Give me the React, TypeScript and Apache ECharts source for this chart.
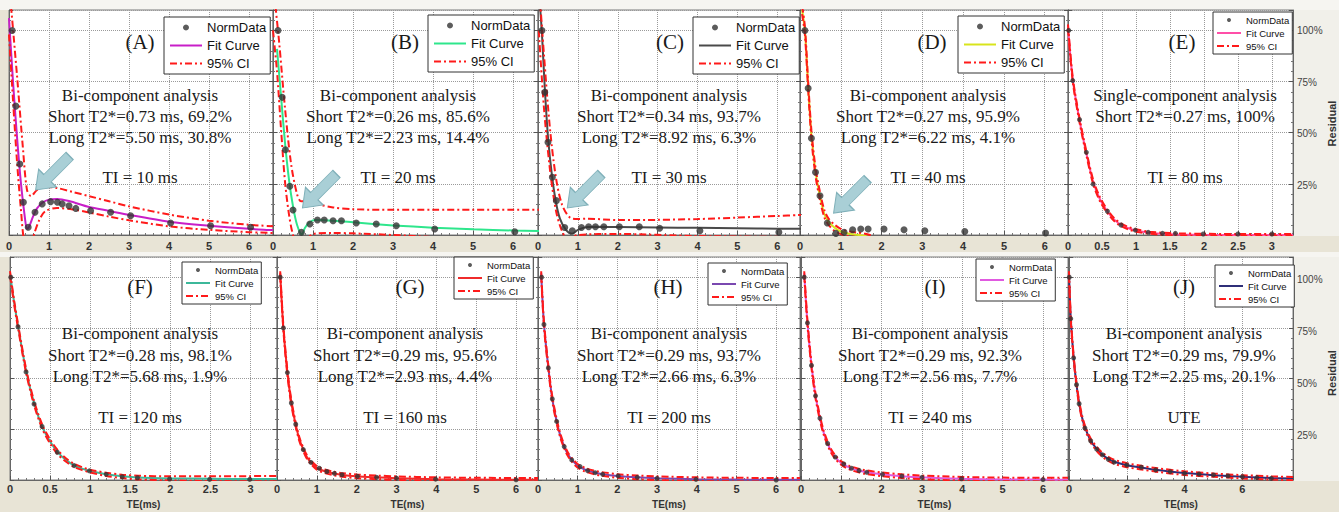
import React, { useEffect, useRef } from "react";
import * as echarts from "echarts";

// ---------------- data (TE in ms, signal in % of first echo) ----------------
// Panel A, TI = 10 ms
const teA = [0.08, 0.17, 0.27, 0.36, 0.48, 0.65, 0.83, 1.04, 1.21, 1.33, 1.5, 1.67, 2.04, 2.54, 3.04, 4.04, 5.04, 6.04];
const sigA = [100, 63, 34.7, 16, 3.8, 11.1, 15.2, 16.3, 16, 15.2, 14.3, 13, 11.9, 11.1, 9.4, 5.9, 4.5, 3.8];
const fitXA = [0, 0.1, 0.2, 0.3, 0.4, 0.45, 0.5, 0.6, 0.7, 0.85, 1.0, 1.2, 1.5, 2, 2.5, 3, 4, 5, 6, 6.6];
const fitA = [106, 75, 48, 25, 8, 3, 4, 9, 13, 16, 17.3, 17.6, 16.6, 13.7, 11.8, 9.8, 6.5, 4.5, 3, 2.4];
const ciHiXA = [0.05, 0.2, 0.35, 0.45, 0.55, 0.7, 0.9, 1.2, 1.6, 2, 2.5, 3, 4, 5, 6, 6.6];
const ciHiA = [112, 78, 42, 22, 19, 22, 23.5, 23, 21, 19, 16.5, 14, 10, 7, 5, 4.3];
const ciLoXA = [0, 0.1, 0.2, 0.3, 0.38, 0.5, 0.62, 0.75, 0.9, 1.2, 1.6, 2, 2.5, 3, 4, 5, 6, 6.6];
const ciLoA = [98, 66, 36, 12, -3, -8, 0, 7, 11.5, 13.2, 12.5, 11, 9, 7.2, 4.2, 2.5, 1.4, 1];

// Panel B, TI = 20 ms
const teB = [0.125, 0.23, 0.31, 0.42, 0.5, 0.71, 0.92, 1.11, 1.28, 1.5, 1.71, 2.08, 2.58, 3.08, 4.04, 6.04];
const sigB = [100, 67.3, 41.7, 23.8, 12.2, 1.3, 5.4, 7.3, 7.3, 7, 7, 5.9, 5.4, 4.5, 2.9, 1.6];
const fitXB = [0.1, 0.2, 0.3, 0.4, 0.5, 0.6, 0.72, 0.8, 0.9, 1.05, 1.3, 1.7, 2, 3, 4, 5, 6, 6.65];
const fitB = [91, 68, 45, 27, 14, 5, 0.3, 3.5, 6, 7.3, 7.2, 6.7, 6.2, 4.7, 3.6, 2.8, 2.2, 2];
const ciHiXB = [0.06, 0.15, 0.3, 0.45, 0.6, 0.7, 0.8, 1.0, 1.5, 2, 3, 4, 5, 6, 6.65];
const ciHiB = [112, 95, 62, 35, 20, 16.5, 16.5, 15.5, 13.5, 12.6, 12.3, 12.3, 12.3, 12.4, 12.4];
const ciLoXB = [0, 0.1, 0.2, 0.3, 0.4, 0.5, 0.6, 0.8, 1.0, 1.5, 2, 3, 4, 5, 6.65];
const ciLoB = [100, 80, 52, 26, 10, 0, -4, -3, 0.5, 1, 0.8, 0, -1, -2, -3];

// Panel C, TI = 30 ms
const teC = [0.1, 0.17, 0.25, 0.36, 0.46, 0.67, 0.86, 1.09, 1.27, 1.44, 1.65, 2.04, 2.54, 3.05, 4.06, 6.04];
const sigC = [100, 69.8, 45.3, 28.2, 16.8, 3.7, 2.1, 3.7, 4, 4, 4, 4, 4, 3.3, 2.1, 1.3];
const fitXC = [0.05, 0.1, 0.17, 0.25, 0.35, 0.45, 0.55, 0.7, 0.85, 1.0, 1.2, 1.5, 2, 3, 4, 5, 6, 6.6];
const fitC = [112, 98, 72, 48, 29, 16, 8, 2.5, 0.6, 2.5, 3.8, 4, 3.9, 3.7, 3.5, 3.3, 3.1, 3];
const ciHiXC = [0.05, 0.15, 0.3, 0.45, 0.6, 0.8, 1.0, 1.2, 2, 3, 4, 5, 6, 6.6];
const ciHiC = [115, 88, 52, 28, 15, 8.5, 7.8, 8, 7.3, 7.4, 7.8, 8.5, 9.3, 9.8];
const ciLoXC = [0.02, 0.15, 0.3, 0.45, 0.6, 0.75, 1.0, 2, 4, 6.6];
const ciLoC = [100, 62, 32, 12, 2, -2, 0, 0.5, -0.5, -1];

// Panel D, TI = 40 ms
const teD = [0.12, 0.2, 0.28, 0.38, 0.49, 0.67, 0.88, 1.08, 1.29, 1.49, 1.67, 2.06, 2.55, 3.06, 4.04, 6.02];
const sigD = [100, 71.7, 47.3, 30.7, 19.2, 5.9, 0.8, 1.3, 2.6, 2.9, 2.9, 2.9, 2.6, 2.1, 1.7, 1];
const fitXD = [0.05, 0.12, 0.2, 0.28, 0.38, 0.49, 0.6, 0.7, 0.85, 1.0, 1.2, 1.4, 1.6, 1.8];
const fitD = [110, 100, 73, 49, 31, 19, 10, 6.5, 3.5, 1.7, 0.6, 0.1, -0.5, -1.5];
const ciHiD = [112, 102, 75, 51, 33, 21, 12, 8, 5, 3, 1.8, 1.2, 0.6, -0.5];
const ciLoD = [108, 98, 71, 47, 29, 17, 8.5, 5, 2, 0.4, -0.6, -1, -1.6, -2.5];

// Panel E, TI = 80 ms
const teE = [0.01, 0.07, 0.17, 0.27, 0.37, 0.58, 0.78, 0.99, 1.18, 1.39, 1.58, 1.99, 2.5, 3.0];
const sigE = [100, 75.5, 56.4, 40.4, 24.9, 11.6, 4.9, 2.4, 1.3, 0.8, 0.8, 0.5, 0.5, 0.5];
const fitXE = [0, 0.07, 0.17, 0.27, 0.37, 0.47, 0.58, 0.68, 0.78, 0.9, 1.0, 1.2, 1.4, 1.6, 2, 2.5, 3, 3.31];
const fitE = [102, 76, 56, 40, 26, 17.5, 11.5, 7.5, 5, 3.2, 2.2, 1.1, 0.6, 0.3, 0.1, 0, 0, 0];
const ciHiE = [103, 77, 57, 41, 27, 18.5, 12.3, 8.2, 5.7, 3.8, 2.8, 1.6, 1.1, 0.8, 0.6, 0.5, 0.5, 0.5];
const ciLoE = [101, 75, 55, 39, 25, 16.5, 10.7, 6.8, 4.3, 2.6, 1.6, 0.6, 0.1, -0.2, -0.4, -0.5, -0.5, -0.5];

// Panel F, TI = 120 ms
const teF = [0.01, 0.1, 0.2, 0.3, 0.4, 0.59, 0.8, 0.99, 1.2, 1.4, 1.59, 1.99, 2.49, 2.99];
const sigF = [100, 75.6, 53.3, 37.5, 26.4, 13.7, 7.1, 4.5, 2.8, 1.6, 1.1, 0.5, 0.3, 0.3];
const fitXF = [0, 0.05, 0.1, 0.2, 0.3, 0.4, 0.5, 0.6, 0.7, 0.8, 0.9, 1.0, 1.2, 1.4, 1.6, 2, 2.5, 3, 3.33];
const fitF = [102, 88, 76, 54, 38, 26.5, 19, 13.5, 9.8, 7.2, 5.6, 4.4, 2.8, 1.8, 1.2, 0.8, 0.6, 0.5, 0.5];
const ciHiF = [103, 89, 77, 55, 39, 27.5, 20, 14.5, 10.6, 8, 6.3, 5.1, 3.6, 2.6, 2.1, 1.8, 1.8, 1.9, 2];
const ciLoF = [101, 87, 75, 53, 37, 25.5, 18, 12.5, 9, 6.4, 4.9, 3.7, 2, 1, 0.3, -0.2, -0.5, -0.6, -0.7];

// Panel G, TI = 160 ms
const teG = [0.08, 0.16, 0.26, 0.36, 0.47, 0.66, 0.85, 1.06, 1.25, 1.44, 1.63, 2.02, 2.5, 3.0, 3.98, 6.0];
const sigG = [100, 75, 53, 38, 27.5, 15, 8.7, 5.8, 4.2, 3.3, 2.6, 1.8, 1.3, 0.9, 0.4, 0.1];
const fitXG = [0.08, 0.16, 0.26, 0.36, 0.47, 0.56, 0.66, 0.75, 0.85, 1.0, 1.2, 1.4, 1.6, 2, 2.5, 3, 4, 5, 6, 6.55];
const fitG = [102, 75, 53.2, 38.2, 27.3, 20.2, 15, 11.4, 8.7, 6, 4.3, 3.3, 2.6, 1.8, 1.3, 0.9, 0.4, 0.2, 0.1, 0.1];
const ciHiG = [103, 76.2, 54.4, 39.4, 28.4, 21.2, 15.9, 12.3, 9.6, 6.9, 5.2, 4.2, 3.5, 2.7, 2.2, 1.8, 1.3, 1.1, 1, 1];
const ciLoG = [101, 73.8, 52, 37, 26.2, 19.2, 14.1, 10.5, 7.8, 5.1, 3.4, 2.4, 1.7, 0.9, 0.4, 0, -0.5, -0.7, -0.8, -0.8];

// Panel H, TI = 200 ms
const teH = [0.09, 0.15, 0.26, 0.36, 0.47, 0.66, 0.85, 1.06, 1.25, 1.44, 1.63, 2.02, 2.5, 3.0, 3.98, 6.0];
const sigH = [100, 76.7, 55.3, 40, 28.9, 16.5, 9.9, 6.6, 4.6, 3.6, 2.8, 2, 1.3, 0.8, 0.3, 0];
const fitXH = [0.08, 0.15, 0.26, 0.36, 0.47, 0.56, 0.66, 0.75, 0.85, 1.0, 1.2, 1.4, 1.6, 2, 2.5, 3, 4, 5, 6, 6.6];
const fitH = [102, 77, 55.5, 40, 29, 22, 16.5, 12.8, 10, 7, 5, 3.8, 3, 2, 1.3, 0.9, 0.4, 0.2, 0.1, 0.1];
const ciHiH = [103, 78.2, 56.7, 41.2, 30.1, 23, 17.4, 13.7, 10.9, 7.9, 5.9, 4.7, 3.9, 2.9, 2.2, 1.8, 1.3, 1.1, 1, 1];
const ciLoH = [101, 75.8, 54.3, 38.8, 27.9, 21, 15.6, 11.9, 9.1, 6.1, 4.1, 2.9, 2.1, 1.1, 0.4, 0, -0.5, -0.7, -0.8, -0.8];

// Panel I, TI = 240 ms
const teI = [0.08, 0.16, 0.26, 0.36, 0.47, 0.66, 0.85, 1.06, 1.25, 1.44, 1.63, 2.02, 2.5, 3.0, 3.98, 6.0];
const sigI = [100, 77.5, 56.5, 41.5, 30.5, 18, 11.3, 7.9, 5.8, 4.7, 3.8, 2.8, 1.9, 1.3, 0.6, 0.2];
const fitXI = [0.08, 0.16, 0.26, 0.36, 0.47, 0.56, 0.66, 0.75, 0.85, 1.0, 1.2, 1.4, 1.6, 2, 2.5, 3, 4, 5, 6, 6.62];
const fitI = [102, 77.5, 56.5, 41.5, 30.5, 23.5, 18, 14.2, 11.3, 8.3, 6.1, 4.8, 3.9, 2.8, 1.9, 1.3, 0.6, 0.3, 0.2, 0.1];
const ciHiI = [103, 78.7, 57.7, 42.7, 31.6, 24.5, 18.9, 15.1, 12.2, 9.2, 7, 5.7, 4.8, 3.7, 2.8, 2.2, 1.5, 1.2, 1.1, 1.1];
const ciLoI = [101, 76.3, 55.3, 40.3, 29.4, 22.5, 17.1, 13.3, 10.4, 7.4, 5.2, 3.9, 3, 1.9, 1, 0.4, -0.3, -0.6, -0.7, -0.8];

// Panel J, UTE
const teJ = [0.01, 0.06, 0.16, 0.26, 0.35, 0.55, 0.75, 0.96, 1.16, 1.36, 1.56, 2, 2.5, 3, 3.5, 4, 4.5, 5, 5.5, 6, 6.5, 7];
const sigJ = [100, 79.6, 60.2, 47, 37.6, 25.6, 19.3, 15.2, 12.4, 10.2, 8.8, 7.4, 6.3, 5, 4.1, 3.3, 2.9, 2.5, 2, 1.6, 1.2, 0.8];
const fitXJ = [0, 0.06, 0.16, 0.26, 0.35, 0.45, 0.55, 0.75, 0.96, 1.16, 1.36, 1.56, 2, 2.5, 3, 4, 5, 6, 7, 7.75];
const fitJ = [102, 80, 60.5, 47, 38, 31, 26, 19.5, 15.3, 12.4, 10.4, 9, 7.3, 6.1, 5, 3.4, 2.4, 1.6, 1, 0.7];
const ciHiJ = [103, 81, 61.5, 48, 39, 32, 27, 20.5, 16.3, 13.4, 11.4, 10, 8.3, 7, 5.9, 4.3, 3.2, 2.4, 1.8, 1.5];
const ciLoJ = [101, 79, 59.5, 46, 37, 30, 25, 18.5, 14.3, 11.4, 9.4, 8, 6.3, 5.2, 4.1, 2.5, 1.6, 0.8, 0.2, -0.1];

// arrows (data coordinates of arrow centre)
const arrowA = [1.09, 30.3];
const arrowB = [1.16, 21.5];
const arrowC = [1.16, 21.5];
const arrowD = [1.24, 19];

// texts
const legendNames = ["NormData", "Fit Curve", "95% CI"];
const notesA = ["Bi-component analysis", "Short T2*=0.73 ms, 69.2%", "Long T2*=5.50 ms, 30.8%", "TI = 10 ms"];
const notesB = ["Bi-component analysis", "Short T2*=0.26 ms, 85.6%", "Long T2*=2.23 ms, 14.4%", "TI = 20 ms"];
const notesC = ["Bi-component analysis", "Short T2*=0.34 ms, 93.7%", "Long T2*=8.92 ms, 6.3%", "TI = 30 ms"];
const notesD = ["Bi-component analysis", "Short T2*=0.27 ms, 95.9%", "Long T2*=6.22 ms, 4.1%", "TI = 40 ms"];
const notesE = ["Single-component analysis", "Short T2*=0.27 ms, 100%", "", "TI = 80 ms"];
const notesF = ["Bi-component analysis", "Short T2*=0.28 ms, 98.1%", "Long T2*=5.68 ms, 1.9%", "TI = 120 ms"];
const notesG = ["Bi-component analysis", "Short T2*=0.29 ms, 95.6%", "Long T2*=2.93 ms, 4.4%", "TI = 160 ms"];
const notesH = ["Bi-component analysis", "Short T2*=0.29 ms, 93.7%", "Long T2*=2.66 ms, 6.3%", "TI = 200 ms"];
const notesI = ["Bi-component analysis", "Short T2*=0.29 ms, 92.3%", "Long T2*=2.56 ms, 7.7%", "TI = 240 ms"];
const notesJ = ["Bi-component analysis", "Short T2*=0.29 ms, 79.9%", "Long T2*=2.25 ms, 20.1%", "UTE"];
const residualName = "Residual";
const teName = "TE(ms)";

// ---------------- layout / style ----------------
type Panel = {
  id: string; te: number[]; sig: number[]; fitX: number[]; fit: number[];
  hiX: number[]; hi: number[]; loX: number[]; lo: number[];
  color: string; xMax: number; xInt: number; grid: number[]; row: number;
  legend: number[]; big: boolean; tagX: number; textX: number; notes: string[];
  arrow?: number[];
};

const panels: Panel[] = [
  { id: "A", te: teA, sig: sigA, fitX: fitXA, fit: fitA, hiX: ciHiXA, hi: ciHiA, loX: ciLoXA, lo: ciLoA, color: "#c81ec8", xMax: 6.6, xInt: 1, grid: [9, 10, 264, 225], row: 0, legend: [164, 17], big: true, tagX: 140, textX: 140, notes: notesA, arrow: arrowA },
  { id: "B", te: teB, sig: sigB, fitX: fitXB, fit: fitB, hiX: ciHiXB, hi: ciHiB, loX: ciLoXB, lo: ciLoB, color: "#2ee68c", xMax: 6.62, xInt: 1, grid: [273, 10, 265, 225], row: 0, legend: [428, 15], big: true, tagX: 405, textX: 398, notes: notesB, arrow: arrowB },
  { id: "C", te: teC, sig: sigC, fitX: fitXC, fit: fitC, hiX: ciHiXC, hi: ciHiC, loX: ciLoXC, lo: ciLoC, color: "#4a4a4a", xMax: 6.57, xInt: 1, grid: [538, 10, 262, 225], row: 0, legend: [693, 17], big: true, tagX: 670, textX: 669, notes: notesC, arrow: arrowC },
  { id: "D", te: teD, sig: sigD, fitX: fitXD, fit: fitD, hiX: fitXD, hi: ciHiD, loX: fitXD, lo: ciLoD, color: "#d8e41c", xMax: 6.57, xInt: 1, grid: [800, 10, 268, 225], row: 0, legend: [958, 16], big: true, tagX: 932, textX: 928, notes: notesD, arrow: arrowD },
  { id: "E", te: teE, sig: sigE, fitX: fitXE, fit: fitE, hiX: fitXE, hi: ciHiE, loX: fitXE, lo: ciLoE, color: "#ff4fa8", xMax: 3.31, xInt: 0.5, grid: [1068, 10, 225, 225], row: 0, legend: [1213, 12], big: false, tagX: 1182, textX: 1185, notes: notesE },
  { id: "F", te: teF, sig: sigF, fitX: fitXF, fit: fitF, hiX: fitXF, hi: ciHiF, loX: fitXF, lo: ciLoF, color: "#3cb89a", xMax: 3.33, xInt: 0.5, grid: [10, 257, 267, 223], row: 1, legend: [182, 262], big: false, tagX: 140, textX: 140, notes: notesF },
  { id: "G", te: teG, sig: sigG, fitX: fitXG, fit: fitG, hiX: fitXG, hi: ciHiG, loX: fitXG, lo: ciLoG, color: "#ef2b2b", xMax: 6.55, xInt: 1, grid: [277, 257, 261, 223], row: 1, legend: [454, 257], big: false, tagX: 410, textX: 405, notes: notesG },
  { id: "H", te: teH, sig: sigH, fitX: fitXH, fit: fitH, hiX: fitXH, hi: ciHiH, loX: fitXH, lo: ciLoH, color: "#7a48b0", xMax: 6.6, xInt: 1, grid: [538, 257, 262, 223], row: 1, legend: [708, 263], big: false, tagX: 668, textX: 669, notes: notesH },
  { id: "I", te: teI, sig: sigI, fitX: fitXI, fit: fitI, hiX: fitXI, hi: ciHiI, loX: fitXI, lo: ciLoI, color: "#e05ae0", xMax: 6.62, xInt: 1, grid: [801, 257, 267, 223], row: 1, legend: [976, 259], big: false, tagX: 935, textX: 930, notes: notesI },
  { id: "J", te: teJ, sig: sigJ, fitX: fitXJ, fit: fitJ, hiX: fitXJ, hi: ciHiJ, loX: fitXJ, lo: ciLoJ, color: "#2f2f78", xMax: 7.75, xInt: 2, grid: [1069, 257, 224, 223], row: 1, legend: [1215, 265], big: false, tagX: 1184, textX: 1184, notes: notesJ },
];

const ROW_TEXT_Y = [
  { tag: 42, lines: [95, 116, 137, 177] },
  { tag: 287, lines: [333, 355, 376, 417] },
];

const CI_COLOR = "#ff1a1a";
const CI_DASH = [7, 3, 2, 3];
const SERIF = '"Liberation Serif", "Times New Roman", serif';
const SANS = '"Liberation Sans", Arial, sans-serif';
const ARROW = "path://M0,12 L16,0 L16,7 L46,7 L46,17 L16,17 L16,24 Z";
const HIDDEN_SYMBOL = { color: "rgba(0,0,0,0)", borderColor: "rgba(0,0,0,0)", borderWidth: 0 };

function buildOption() {
  const grids: any[] = [];
  const xAxes: any[] = [];
  const yAxes: any[] = [];
  const series: any[] = [];
  const legends: any[] = [];
  const graphics: any[] = [];

  const pair = (xs: number[], ys: number[]) => xs.map((x, k) => [x, ys[k]]);

  panels.forEach((p, i) => {
    const [gl, gt, gw, gh] = p.grid;
    grids.push({
      left: gl, top: gt, width: gw, height: gh, show: true,
      backgroundColor: "#ffffff", borderColor: "#7a7a7a", borderWidth: 1,
      containLabel: false, outerBoundsMode: "none",
    });
    xAxes.push({
      gridIndex: i, type: "value", min: 0, max: p.xMax, interval: p.xInt,
      axisLine: { show: true, lineStyle: { color: "#666", width: 1 } },
      axisTick: { show: true, inside: true, length: 4, lineStyle: { color: "#555" } },
      minorTick: { show: true, splitNumber: 5, length: 2, lineStyle: { color: "#777" } },
      axisLabel: {
        show: true, showMaxLabel: false, color: "#333", fontSize: 11, fontWeight: "bold",
        fontFamily: SANS, margin: p.row === 0 ? 5 : 3,
      },
      splitLine: { show: true, lineStyle: { type: "dotted", color: "#9a9a9a", width: 1 } },
      name: p.row === 1 ? teName : "",
      nameLocation: "middle", nameGap: 19,
      nameTextStyle: { fontWeight: "bold", fontSize: 10, color: "#333", fontFamily: SANS },
    });
    yAxes.push({
      gridIndex: i, type: "value", min: 0, max: 110, interval: 25, position: "left",
      axisLine: { show: true, lineStyle: { color: "#666", width: 1 } },
      axisTick: { show: true, inside: true, length: 4, lineStyle: { color: "#555" } },
      minorTick: { show: true, splitNumber: 5, length: 2, lineStyle: { color: "#777" } },
      axisLabel: { show: false },
      splitLine: { show: true, lineStyle: { type: "dotted", color: "#9a9a9a", width: 1 } },
    });

    const nd = `${legendNames[0]}|${p.id}`;
    const fc = `${legendNames[1]}|${p.id}`;
    const ci = `${legendNames[2]}|${p.id}`;

    series.push({
      type: "line", name: fc, xAxisIndex: i, yAxisIndex: i, data: pair(p.fitX, p.fit),
      symbol: "none", smooth: 0.3, clip: true, z: 2, silent: true,
      lineStyle: { color: p.color, width: 2 }, itemStyle: { color: p.color },
    });
    series.push({
      type: "line", name: ci, xAxisIndex: i, yAxisIndex: i, data: pair(p.hiX, p.hi),
      symbol: "none", smooth: 0.3, clip: true, z: 3, silent: true,
      lineStyle: { color: CI_COLOR, width: 2, type: CI_DASH }, itemStyle: { color: CI_COLOR },
    });
    series.push({
      type: "line", name: ci, xAxisIndex: i, yAxisIndex: i, data: pair(p.loX, p.lo),
      symbol: "none", smooth: 0.3, clip: true, z: 3, silent: true,
      lineStyle: { color: CI_COLOR, width: 2, type: CI_DASH }, itemStyle: { color: CI_COLOR },
    });
    const pts: any = {
      type: "scatter", name: nd, xAxisIndex: i, yAxisIndex: i, data: pair(p.te, p.sig),
      symbol: "circle", symbolSize: p.big ? 7 : 5, clip: true, z: 5, silent: true,
      itemStyle: { color: "#333333" },
    };
    if (p.arrow) {
      pts.markPoint = {
        silent: true,
        data: [{
          coord: p.arrow, symbol: ARROW, symbolSize: [48, 25], symbolRotate: 45,
          itemStyle: { color: "#a9cfd6", borderColor: "#7fb0b9", borderWidth: 1 },
          label: { show: false },
        }],
      };
    }
    series.push(pts);

    legends.push({
      show: true, left: p.legend[0], top: p.legend[1], orient: "vertical",
      data: [
        { name: nd, icon: "circle" },
        { name: fc, itemStyle: HIDDEN_SYMBOL },
        { name: ci, itemStyle: HIDDEN_SYMBOL },
      ],
      formatter: (n: string) => n.split("|")[0],
      selectedMode: false, backgroundColor: "#ffffff", borderColor: "#333", borderWidth: 1,
      borderRadius: 0,
      padding: p.big ? [4, 4, 4, 5] : [3, 3, 3, 3],
      itemGap: p.big ? 5 : 3,
      itemWidth: p.big ? 32 : 24,
      itemHeight: p.big ? 6 : 4,
      textStyle: { fontSize: p.big ? 13 : 9.5, color: "#111", fontFamily: SANS },
    });

    const ty = ROW_TEXT_Y[p.row];
    graphics.push({
      type: "text", x: p.tagX, y: ty.tag, z: 20, silent: true,
      style: {
        text: `(${p.id})`, font: `21px ${SERIF}`, fill: "#1a1a1a",
        textAlign: "center", textVerticalAlign: "middle", align: "center", verticalAlign: "middle",
      },
    });
    p.notes.forEach((t, k) => {
      if (!t) return;
      graphics.push({
        type: "text", x: p.textX, y: ty.lines[k], z: 20, silent: true,
        style: {
          text: t, font: `17px ${SERIF}`, fill: "#1a1a1a",
          textAlign: "center", textVerticalAlign: "middle", align: "center", verticalAlign: "middle",
        },
      });
    });
  });

  // right-hand axes (box ticks)
  panels.forEach((p, i) => {
    yAxes.push({
      gridIndex: i, type: "value", min: 0, max: 110, interval: 25, position: "right",
      axisLine: { show: true, lineStyle: { color: "#666", width: 1 } },
      axisTick: { show: true, inside: true, length: 4, lineStyle: { color: "#555" } },
      minorTick: { show: true, splitNumber: 5, length: 2, lineStyle: { color: "#777" } },
      axisLabel: { show: false }, splitLine: { show: false },
    });
  });

  // residual axes on the far right
  const resGrids = [
    { top: 10, height: 227 },
    { top: 259, height: 228 },
  ];
  resGrids.forEach((g) => {
    const gi = grids.length;
    grids.push({ left: 1293, top: g.top, width: 1, height: g.height, show: false, containLabel: false, outerBoundsMode: "none" });
    xAxes.push({ gridIndex: gi, type: "value", min: 0, max: 1, show: false });
    yAxes.push({
      gridIndex: gi, type: "value", min: 0, max: 110, interval: 25, position: "right",
      axisLine: { show: false }, axisTick: { show: false }, splitLine: { show: false },
      axisLabel: {
        show: true, margin: 3, color: "#444", fontSize: 10, fontFamily: SANS,
        formatter: (v: number) => (v === 0 || v > 100 ? "" : `${v}%`),
      },
      name: residualName, nameLocation: "middle", nameRotate: 90, nameGap: 30,
      nameTextStyle: { fontWeight: "bold", fontSize: 11, color: "#333", fontFamily: SANS },
    });
  });

  // background bands
  const bands = [
    { x: 0, y: 0, w: 1339, h: 10, c: "#f6f5f1" },
    { x: 0, y: 252, w: 1339, h: 5, c: "#f6f5f1" },
    { x: 1294, y: 10, w: 45, h: 226, c: "#f1f0ea" },
    { x: 1294, y: 257, w: 45, h: 224, c: "#f1f0ea" },
  ];
  bands.forEach((b) => {
    graphics.unshift({
      type: "rect", z: -5, silent: true,
      shape: { x: b.x, y: b.y, width: b.w, height: b.h },
      style: { fill: b.c },
    });
  });

  return {
    animation: false,
    backgroundColor: "#e8e4d6",
    grid: grids,
    xAxis: xAxes,
    yAxis: yAxes,
    legend: legends,
    series,
    graphic: { elements: graphics },
  };
}

export default function App() {
  const ref = useRef<HTMLDivElement>(null);
  useEffect(() => {
    if (!ref.current) return;
    const chart = echarts.init(ref.current, null, { renderer: "svg" });
    chart.setOption(buildOption() as any);
    return () => chart.dispose();
  }, []);
  return (
    <div
      ref={ref}
      style={{ position: "fixed", left: 0, top: 0, width: 1339, height: 512 }}
    />
  );
}
